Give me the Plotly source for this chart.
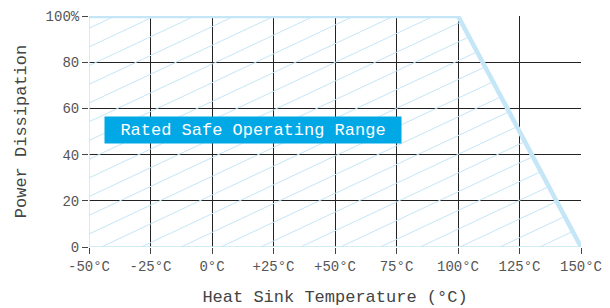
import plotly.graph_objects as go

# Data
curve_temp = [-50, 100, 150]
curve_power = [100, 100, 0]
x_ticks = [-50, -25, 0, 25, 50, 75, 100, 125, 150]
x_tick_labels = ["-50°C", "-25°C", "0°C", "+25°C", "+50°C", "75°C", "100°C", "125°C", "150°C"]
y_ticks = [0, 20, 40, 60, 80, 100]
y_tick_labels = ["0", "20", "40", "60", "80", "100%"]

LIGHT = "#c4e6f7"
FONT = "Liberation Mono"

# hatch lines clipped to the derating polygon
slope = 0.5
spacing = 8.1
hx, hy = [], []
c = -205.0
while c < 100:
    x_lo = max(-50.0, -50.0 - c / slope)
    x_hi = min(150.0, -50.0 + (100.0 - c) / slope,
               (300.0 - 25.0 - c) / (slope + 2.0))
    if x_hi > x_lo:
        hx += [x_lo, x_hi, None]
        hy += [slope * (x_lo + 50) + c, slope * (x_hi + 50) + c, None]
    c += spacing

fig = go.Figure()
# polygon outline
fig.add_trace(go.Scatter(
    x=[curve_temp[0]] + curve_temp + [curve_temp[0]],
    y=[0] + curve_power + [0],
    mode="lines", line=dict(color=LIGHT, width=1.5),
    hoverinfo="skip", showlegend=False))
fig.add_trace(go.Scatter(x=hx, y=hy, mode="lines",
                         line=dict(color=LIGHT, width=1),
                         hoverinfo="skip", showlegend=False))
fig.add_trace(go.Scatter(x=curve_temp, y=curve_power, mode="lines",
                         line=dict(color=LIGHT, width=4.5),
                         cliponaxis=False, showlegend=False))

fig.add_annotation(x=16.5, y=50.5, xref="x", yref="y",
                   text="Rated Safe Operating Range", showarrow=False,
                   font=dict(family=FONT, size=17, color="white"),
                   bgcolor="#00a8e6", width=292, height=22, borderpad=2)

fig.update_xaxes(range=[-50, 150], tickvals=x_ticks, ticktext=x_tick_labels,
                 showgrid=True, gridcolor="#222", gridwidth=1,
                 zeroline=False, showline=False, automargin=False,
                 ticks="outside", ticklen=6, tickcolor="#444",
                 tickfont=dict(family=FONT, size=14, color="#555"),
                 title=dict(text="Heat Sink Temperature (°C)",
                            font=dict(family=FONT, size=17, color="#444"),
                            standoff=16))
fig.update_yaxes(range=[0, 100], tickvals=y_ticks, ticktext=y_tick_labels,
                 showgrid=True, gridcolor="#222", gridwidth=1,
                 zeroline=False, showline=False, automargin=False,
                 ticks="outside", ticklen=6, tickcolor="#444",
                 tickfont=dict(family=FONT, size=14, color="#555"),
                 title=dict(text="Power Dissipation",
                            font=dict(family=FONT, size=17, color="#444"),
                            standoff=14))

# page body has an 8px margin, so margins are offset accordingly
fig.update_layout(width=610, height=308,
                  margin=dict(l=81, r=37, t=8, b=69),
                  plot_bgcolor="white", paper_bgcolor="white")

fig.write_html("out.html")
